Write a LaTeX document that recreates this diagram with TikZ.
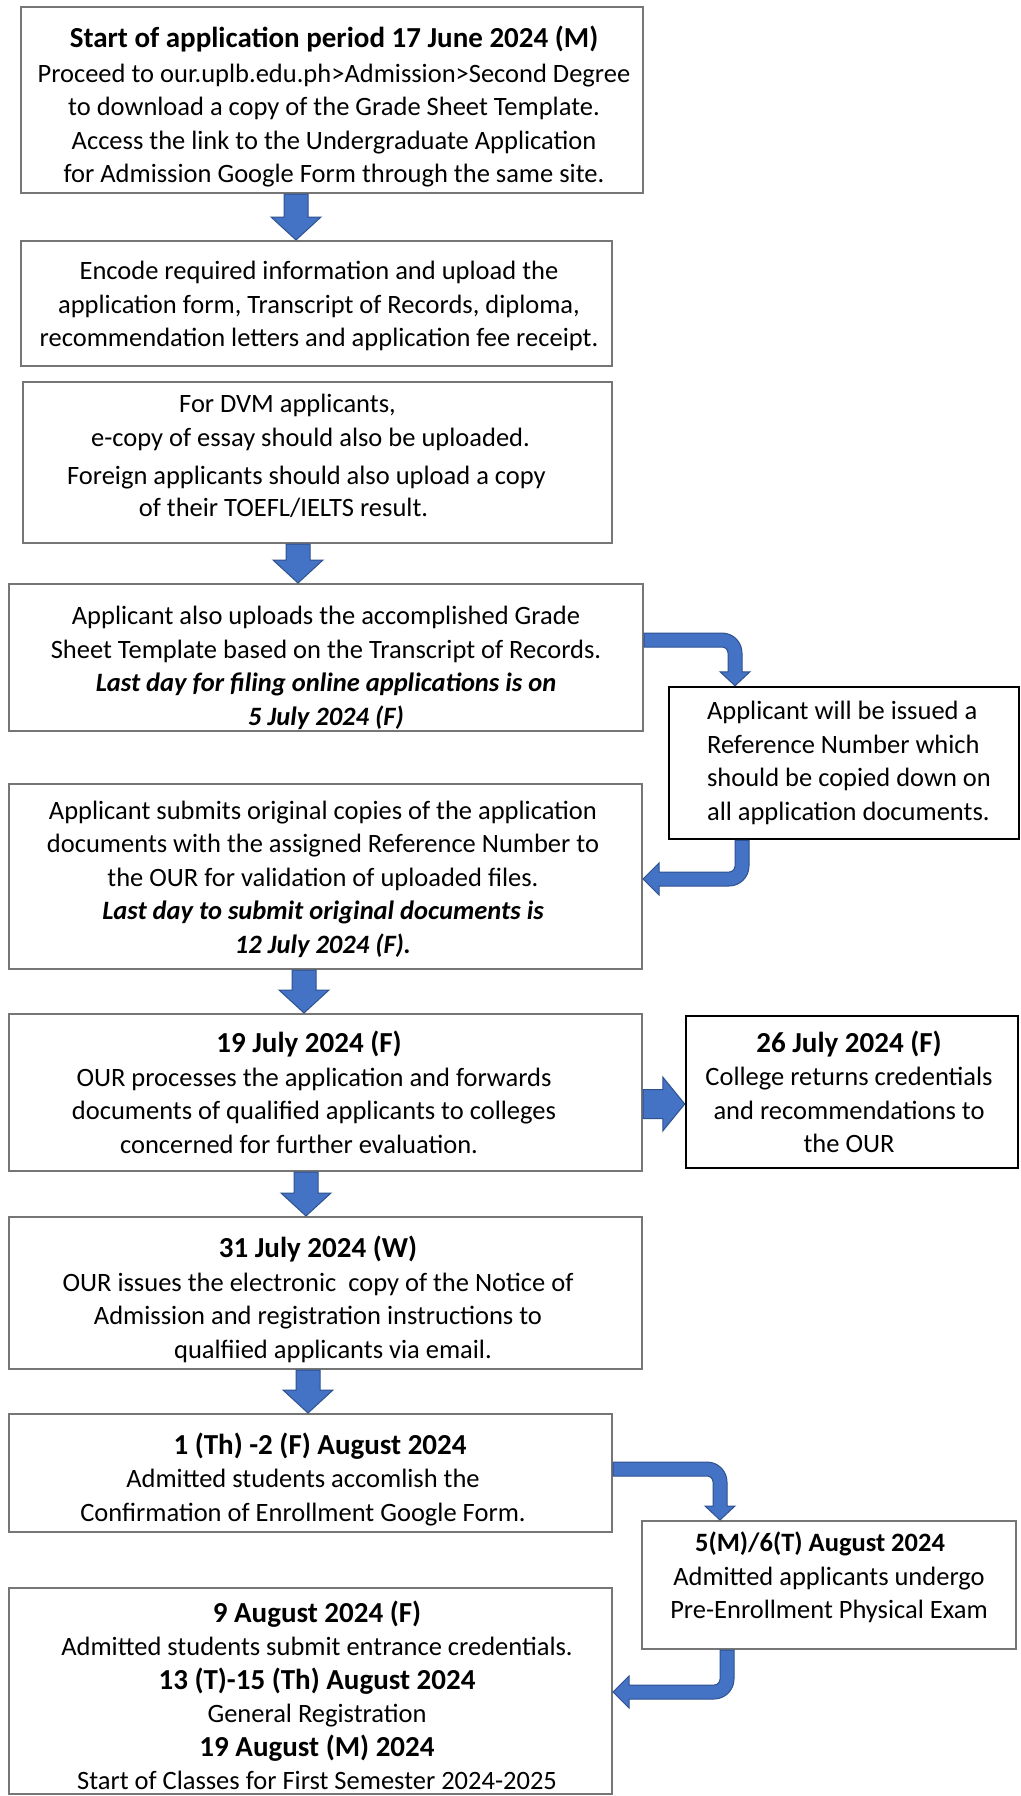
\documentclass[tikz,border=0pt]{standalone}
\usepackage{fontspec}
\setmainfont{Carlito}
\usetikzlibrary{calc}
\definecolor{boxgray}{HTML}{767676}
\definecolor{arrowblue}{HTML}{4472C4}
\definecolor{arrowedge}{HTML}{2F528F}

\newcommand{\hdr}[1]{{\fontsize{29}{35}\selectfont\bfseries #1}}
\newcommand{\bi}[1]{\textbf{\textit{#1}}}

% straight arrow down: source, target, column x
\newcommand{\fatdown}[3]{%
  \draw[fatarrow] let \p1=(#1.south), \p2=(#2.north) in
    (#3pt-12pt,\y1) -- (#3pt+12pt,\y1) -- (#3pt+12pt,\y2+23pt) -- (#3pt+25pt,\y2+23pt)
    -- (#3pt,\y2) -- (#3pt-25pt,\y2+23pt) -- (#3pt-12pt,\y2+23pt) -- cycle;}
% bent arrow, right then down: source, target, row y, column x
\newcommand{\bentdown}[4]{%
  \draw[fatarrow] let \p1=(#1.east), \p2=(#2.north) in
    (\x1,-#3pt+7pt) -- (#4pt-13pt,-#3pt+7pt)
    .. controls (#4pt-1.96pt,-#3pt+7pt) and (#4pt+7pt,-#3pt-1.96pt) .. (#4pt+7pt,-#3pt-13pt)
    -- (#4pt+7pt,\y2+14pt) -- (#4pt+15pt,\y2+14pt) -- (#4pt,\y2) -- (#4pt-15pt,\y2+14pt) -- (#4pt-7pt,\y2+14pt)
    -- (#4pt-7pt,-#3pt-13pt)
    .. controls (#4pt-7pt,-#3pt-9.69pt) and (#4pt-9.69pt,-#3pt-7pt) .. (#4pt-13pt,-#3pt-7pt)
    -- (\x1,-#3pt-7pt) -- cycle;}
% bent arrow, down then left: source, target, row y, column x
\newcommand{\bentleft}[4]{%
  \draw[fatarrow] let \p1=(#1.south), \p2=(#2.east) in
    (#4pt-7pt,\y1) -- (#4pt+7pt,\y1) -- (#4pt+7pt,-#3pt+13pt)
    .. controls (#4pt+7pt,-#3pt+1.96pt) and (#4pt-1.96pt,-#3pt-7pt) .. (#4pt-13pt,-#3pt-7pt)
    -- (\x2+16pt,-#3pt-7pt) -- (\x2+16pt,-#3pt-16pt) -- (\x2,-#3pt) -- (\x2+16pt,-#3pt+16pt) -- (\x2+16pt,-#3pt+7pt)
    -- (#4pt-13pt,-#3pt+7pt)
    .. controls (#4pt-9.69pt,-#3pt+7pt) and (#4pt-7pt,-#3pt+9.69pt) .. (#4pt-7pt,-#3pt+13pt)
    -- cycle;}

\begin{document}
\begin{tikzpicture}[x=1pt, y=-1pt,
  every node/.style={font=\fontsize{26.5}{33.5}\selectfont, align=center, inner sep=0pt},
  box/.style={draw=boxgray, line width=2pt},
  darkbox/.style={draw=black, line width=2.5pt},
  fatarrow/.style={fill=arrowblue, draw=arrowedge, line width=1pt}]
  \path[use as bounding box, fill=white] (0,0) rectangle (1020,1796);

  % Frames
  \node[box, minimum width=622pt, minimum height=186pt] (start) at (332,100) {};
  \node[box, minimum width=591pt, minimum height=125pt] (encode) at (316.5,303.5) {};
  \node[box, minimum width=589pt, minimum height=161pt] (dvm) at (317.5,462.5) {};
  \node[box, minimum width=634pt, minimum height=147pt] (gradesheet) at (326,657.5) {};
  \node[darkbox, minimum width=350pt, minimum height=152pt] (refno) at (844,763) {};
  \node[box, minimum width=633pt, minimum height=185pt] (submit) at (325.5,876.5) {};
  \node[box, minimum width=633pt, minimum height=157pt] (process) at (325.5,1092.5) {};
  \node[darkbox, minimum width=332pt, minimum height=152pt] (returns) at (852,1092) {};
  \node[box, minimum width=633pt, minimum height=152pt] (notice) at (325.5,1293) {};
  \node[box, minimum width=603pt, minimum height=118pt] (confirm) at (310.5,1473) {};
  \node[box, minimum width=374pt, minimum height=128pt] (physical) at (829,1585) {};
  \node[box, minimum width=603pt, minimum height=206pt] (classes) at (310.5,1691) {};

  % Texts
  \node (starttext) at (334,107)
    {\hdr{Start of application period 17 June 2024 (M)}\\[1pt]
     Proceed to our.uplb.edu.ph>Admission>Second Degree\\
     to download a copy of the Grade Sheet Template.\\
     Access the link to the Undergraduate Application\\
     for Admission Google Form through the same site.};
  \node (encodetext) at (319,306)
    {Encode required information and upload the\\
     application form, Transcript of Records, diploma,\\
     recommendation letters and application fee receipt.};
  \node (dvmtext) at (317.5,456)
    {\hspace*{-60pt}For DVM applicants,\\
     \hspace*{-14pt}e-copy of essay should also be uploaded.\\[5pt]
     \hspace*{-22pt}Foreign applicants should also upload a copy\\[-2pt]
     \hspace*{-68pt}of their TOEFL/IELTS result.};
  \node (gradesheettext) at (326,668)
    {Applicant also uploads the accomplished Grade\\
     Sheet Template based on the Transcript of Records.\\
     \bi{Last day for filing online applications is on}\\
     \bi{5 July 2024 (F)}};
  \node[align=left] (refnotext) at (849,763)
    {Applicant will be issued a\\
     Reference Number which\\
     should be copied down on\\
     all application documents.};
  \node (submittext) at (323,879)
    {Applicant submits original copies of the application\\
     documents with the assigned Reference Number to\\
     the OUR for validation of uploaded files.\\
     \bi{Last day to submit original documents is}\\
     \bi{12 July 2024 (F).}};
  \node (processtext) at (314,1092.5)
    {\hspace*{-10pt}\hdr{19 July 2024 (F)}\\
     OUR processes the application and forwards\\
     documents of qualified applicants to colleges\\
     \hspace*{-30pt}concerned for further evaluation.};
  \node (returnstext) at (849,1092)
    {\hdr{26 July 2024 (F)}\\
     College returns credentials\\
     and recommendations to\\
     the OUR};
  \node (noticetext) at (318,1299.5)
    {\hdr{31 July 2024 (W)}\\
     OUR issues the electronic\ \ copy of the Notice of\\
     Admission and registration instructions to\\
     \hspace*{30pt}qualfiied applicants via email.};
  \node (confirmtext) at (303,1479)
    {\hspace*{34pt}\hdr{1 (Th) -2 (F) August 2024}\\
     Admitted students accomlish the\\
     Confirmation of Enrollment Google Form.};
  \node (physicaltext) at (829,1577.5)
    {\hspace*{-18pt}\textbf{5(M)/6(T) August 2024}\\
     Admitted applicants undergo\\
     Pre-Enrollment Physical Exam};
  \node (classestext) at (317,1695.5)
    {\hdr{9 August 2024 (F)}\\
     Admitted students submit entrance credentials.\\
     \hdr{13 (T)-15 (Th) August 2024}\\
     General Registration\\
     \hdr{19 August (M) 2024}\\
     Start of Classes for First Semester 2024-2025};

  % Arrows
  \fatdown{start}{encode}{296}
  \fatdown{dvm}{gradesheet}{298}
  \fatdown{submit}{process}{304}
  \fatdown{process}{notice}{306}
  \fatdown{notice}{confirm}{308}
  \draw[fatarrow] let \p1=(process.east), \p2=(returns.west) in
    (\x1,-1089.5pt) -- (\x2-22pt,-1089.5pt) -- (\x2-22pt,-1077pt) -- (\x2,-1104pt)
    -- (\x2-22pt,-1131pt) -- (\x2-22pt,-1118.5pt) -- (\x1,-1118.5pt) -- cycle;
  \bentdown{gradesheet}{refno}{640}{735}
  \bentleft{refno}{submit}{879}{742}
  \bentdown{confirm}{physical}{1469}{720}
  \bentleft{physical}{classes}{1692}{727}
\end{tikzpicture}
\end{document}
